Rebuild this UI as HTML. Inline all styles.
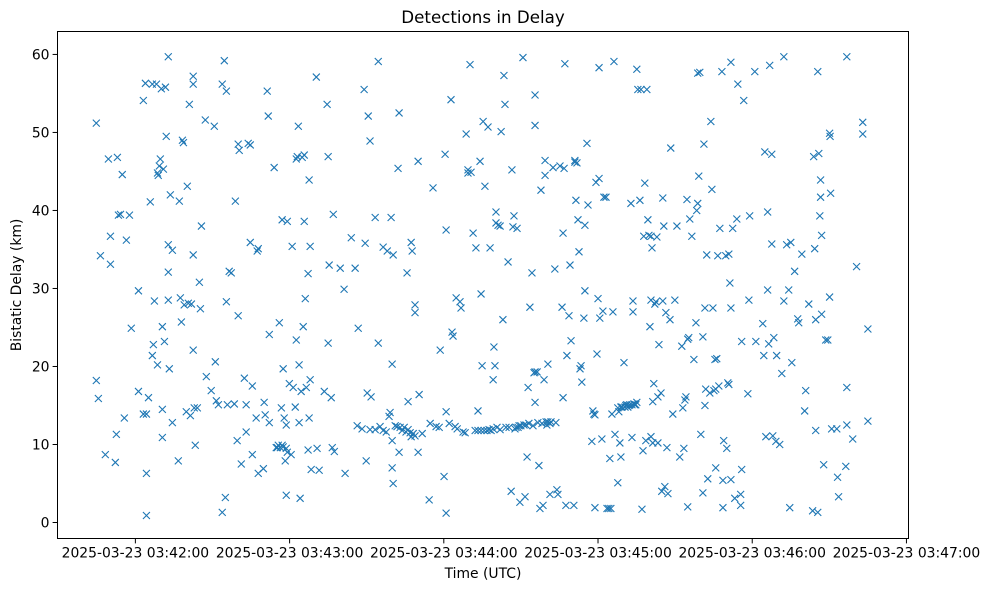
<!DOCTYPE html>
<html><head><meta charset="utf-8"><style>
html,body{margin:0;padding:0;background:#fff;}
svg{display:block;font-family:"DejaVu Sans","Liberation Sans",sans-serif;}
</style></head><body>
<svg id="chart" width="989" height="590" viewBox="0 0 989 590" xmlns="http://www.w3.org/2000/svg">
<rect x="0" y="0" width="989" height="590" fill="#fff"/>
<text x="483" y="23" text-anchor="middle" font-size="16.7">Detections in Delay</text>
<text x="483" y="578" text-anchor="middle" font-size="13.9">Time (UTC)</text>
<text transform="translate(21,285) rotate(-90)" text-anchor="middle" font-size="13.9">Bistatic Delay (km)</text>
<g id="marks"></g>
<g id="axes"></g>
<rect x="57.5" y="31.5" width="851" height="507" fill="none" stroke="#000" stroke-width="1"/>
</svg>
<script>
// seconds after 2025-03-23 03:42:00 UTC
const times = [-15.2,-15.2,-14.4,-13.6,-11.7,-10.5,-9.7,-9.7,-7.8,-7.4,-7.0,-6.6,-5.8,-5.1,-4.3,-3.5,-2.3,-1.6,1.2,1.2,3.1,3.1,3.9,4.3,4.3,4.3,5.1,5.8,6.6,6.6,7.0,7.4,8.2,8.6,8.6,8.9,9.3,9.7,10.1,10.5,10.5,10.5,10.9,11.3,11.7,12.0,12.8,12.8,12.8,12.8,13.2,13.6,14.4,14.4,16.7,17.1,17.5,17.9,18.3,18.7,19.0,19.8,20.2,20.6,21.0,21.4,21.8,22.5,22.5,22.5,22.5,22.9,23.3,24.1,24.9,25.3,25.7,27.2,27.6,29.5,30.7,31.1,31.5,32.3,33.8,33.8,34.6,35.0,35.4,35.4,35.8,36.5,37.3,38.5,38.9,39.6,40.0,40.0,40.4,41.2,42.4,43.1,43.1,43.9,44.7,44.7,45.5,45.5,47.0,47.4,47.8,47.8,49.8,50.1,50.5,51.3,51.7,52.1,52.1,54.0,54.8,55.2,56.4,55.6,57.1,57.5,56.0,56.8,57.1,57.5,57.9,58.3,58.7,58.7,58.7,59.1,59.1,59.9,60.6,61.0,61.4,62.2,62.6,62.6,63.4,63.0,63.7,63.7,64.1,64.5,64.9,65.3,65.7,65.7,66.1,66.5,67.2,67.2,67.6,67.6,68.0,68.0,68.4,70.4,70.7,71.5,73.5,74.6,75.0,75.0,75.4,76.2,76.6,77.0,77.4,79.7,81.2,81.6,84.0,85.5,86.7,89.0,89.4,90.2,89.8,90.6,91.3,91.7,93.3,94.5,94.5,95.2,96.4,98.0,98.7,99.1,99.5,99.9,99.9,99.9,100.3,100.3,101.1,101.8,102.2,102.6,102.6,103.0,103.8,104.6,105.3,105.7,106.1,106.1,106.9,107.3,107.7,107.3,108.1,108.8,108.8,108.8,110.0,110.0,110.4,111.6,114.3,114.7,115.8,117.0,118.2,118.6,120.1,120.5,120.9,120.9,120.9,122.1,122.8,123.2,123.6,124.4,124.8,125.2,126.3,127.5,126.7,128.3,128.7,129.4,129.4,130.2,130.6,131.4,132.2,132.5,133.3,133.3,134.1,134.5,134.5,134.9,135.3,135.7,136.0,136.8,137.2,137.6,138.0,138.4,139.2,139.2,139.5,139.9,140.3,140.3,140.7,141.1,141.9,141.9,142.3,143.0,143.4,143.8,144.2,145.0,145.4,146.2,146.5,146.9,147.3,147.7,148.1,148.5,148.9,149.3,149.6,150.0,150.8,151.2,151.6,152.0,152.4,152.8,153.1,153.5,154.3,154.7,155.1,155.5,155.5,155.5,155.5,156.3,156.6,157.0,157.4,157.8,158.2,158.6,159.0,159.4,159.4,159.8,160.1,160.5,160.5,161.3,161.3,161.7,162.5,163.2,163.6,164.0,164.4,165.2,166.0,166.4,166.4,166.8,167.1,167.5,167.9,168.7,169.1,169.5,170.6,171.0,171.0,171.4,171.8,172.2,172.6,173.0,173.4,173.7,174.5,174.9,174.9,175.7,176.1,177.6,178.0,178.4,178.8,178.8,179.2,179.6,180.0,180.4,180.4,180.7,181.5,181.9,182.3,183.1,183.5,184.2,184.6,185.0,185.4,185.8,186.2,186.6,187.7,187.7,188.1,188.5,188.9,188.9,189.3,190.1,190.5,190.8,191.2,191.6,192.0,192.4,192.8,193.2,193.2,193.6,193.6,194.0,194.3,194.7,195.1,195.1,195.5,196.3,196.7,197.1,197.5,197.8,198.2,198.6,199.0,199.4,199.8,200.2,200.6,200.6,200.6,201.0,201.3,201.3,201.7,202.1,202.5,202.9,203.3,203.3,203.7,204.5,204.8,205.2,205.2,205.6,206.0,206.4,206.8,207.2,208.0,208.3,209.1,209.9,210.7,211.8,212.6,213.0,213.4,213.8,214.2,214.6,214.9,214.9,215.3,215.7,216.5,217.3,218.1,218.4,218.8,218.8,219.2,219.6,220.0,220.8,220.8,221.2,221.6,221.6,221.9,222.3,222.7,223.5,223.9,224.3,224.7,225.1,225.5,225.8,225.8,226.2,226.6,227.0,227.4,228.2,228.6,228.6,228.9,229.7,230.1,230.5,230.9,230.9,231.3,231.7,231.7,231.7,232.4,233.2,234.0,234.4,235.5,235.5,235.9,235.9,236.7,238.3,238.7,239.0,241.0,241.4,244.1,244.5,244.9,245.3,246.0,246.0,246.4,246.8,247.6,247.6,248.0,248.4,249.2,249.5,250.7,251.5,252.3,252.3,253.4,254.2,254.6,255.0,255.4,256.5,257.7,258.1,259.3,260.4,260.8,262.0,263.5,263.9,264.3,264.7,264.7,265.5,265.5,265.9,266.3,266.6,266.6,267.0,267.0,267.8,268.6,269.4,270.1,270.1,270.3,270.5,270.9,272.9,273.2,273.6,276.4,276.8,276.8,276.8,279.1,280.6,283.0,283.0,285.0,285.0,86.3,88.2,91.3,93.3,96.4,97.6];
// bistatic delay in km
const delays = [51.2,18.2,15.9,34.2,8.7,46.6,33.1,36.7,7.7,11.3,46.8,39.4,39.5,44.6,13.4,36.2,39.4,24.9,29.7,16.8,54.1,13.9,56.3,0.9,6.3,13.9,16.0,41.1,56.2,21.4,22.8,28.4,56.2,44.8,20.2,44.5,45.7,46.6,55.6,14.5,10.9,25.1,45.3,23.2,55.8,49.5,35.6,32.1,28.5,59.7,19.7,42.0,12.8,34.9,7.9,41.2,28.8,25.7,49.0,48.7,27.9,14.2,43.1,28.1,53.6,13.7,28.0,57.2,56.2,34.3,22.1,14.7,9.9,14.7,30.8,27.4,38.0,51.6,18.7,16.9,50.8,20.6,15.6,15.1,1.3,56.2,59.2,3.2,55.3,28.3,15.1,32.2,32.0,15.2,41.2,10.5,48.5,26.5,47.7,7.5,18.5,15.1,11.6,48.6,48.4,35.9,8.7,17.5,13.4,34.8,6.3,35.1,6.9,15.4,13.8,55.3,52.1,24.1,12.8,45.5,9.6,9.6,9.6,9.9,9.9,9.7,25.6,14.7,38.8,19.7,13.4,7.9,12.5,9.5,3.5,9.0,38.6,17.8,8.7,35.4,17.3,14.8,46.6,23.4,50.8,46.9,12.8,20.2,3.1,16.8,46.8,25.1,38.6,47.1,28.7,17.3,31.9,9.3,43.9,13.4,35.4,18.3,6.8,57.1,9.5,6.7,16.8,53.6,46.9,23.0,33.0,16.0,9.6,39.5,9.1,32.6,29.9,6.3,36.5,32.6,24.9,55.5,35.8,16.6,7.9,52.1,48.9,16.1,39.1,59.1,23.0,12.3,35.3,34.8,13.6,14.1,39.1,20.3,10.5,7.0,34.3,5.0,12.4,12.3,45.4,9.0,52.5,12.2,11.8,12.2,11.6,32.0,15.5,11.9,11.5,11.0,34.8,35.9,11.4,27.9,11.1,26.9,46.3,9.0,16.4,11.4,2.9,12.7,42.9,12.3,12.2,22.1,5.9,47.2,37.5,1.2,14.2,12.7,54.2,24.4,23.9,12.3,28.8,12.0,28.3,11.6,27.5,11.5,49.8,45.2,44.8,58.7,44.9,37.1,11.8,35.2,14.3,11.8,46.3,11.8,29.3,20.1,51.4,11.8,43.1,11.8,50.7,11.9,35.2,11.8,12.0,18.3,22.5,20.1,39.8,38.4,12.2,38.1,11.9,38.0,50.1,26.0,57.3,53.6,12.2,33.4,12.2,4.0,45.2,37.9,39.3,12.0,12.2,37.7,12.2,12.4,2.6,12.4,59.6,12.5,3.3,12.5,8.4,17.3,12.7,27.6,32.0,12.4,19.2,19.3,15.4,54.8,50.9,19.3,12.8,7.3,1.8,42.6,12.7,2.2,18.3,44.5,46.4,12.9,12.5,12.9,20.3,12.7,3.6,12.9,45.5,32.5,12.8,4.2,3.6,45.7,27.6,37.1,16.0,45.4,58.8,2.2,21.4,26.5,33.0,23.3,2.2,46.2,46.4,41.3,46.1,38.8,34.7,19.7,20.1,18.0,26.2,29.7,38.1,48.6,40.7,10.4,14.3,13.9,13.8,1.9,43.6,21.6,28.7,58.3,44.1,26.2,10.7,27.1,41.7,41.7,1.8,1.8,8.2,1.8,13.9,27.0,59.1,11.3,5.1,14.7,14.2,10.2,14.8,8.4,14.8,20.5,14.8,15.0,15.1,14.8,15.0,15.1,40.9,15.1,10.9,27.0,28.4,15.2,15.1,15.1,15.4,58.1,55.5,41.3,55.5,1.7,9.2,36.7,43.5,10.5,55.5,38.8,36.8,25.1,11.0,28.5,36.7,35.2,15.5,10.2,17.8,28.0,28.3,36.6,10.2,16.1,22.8,16.6,4.0,28.4,41.6,38.0,4.6,26.9,9.6,3.7,26.0,48.0,13.9,28.5,38.0,8.4,22.6,14.7,9.5,15.7,16.1,41.4,2.0,23.5,23.7,38.9,36.7,20.9,25.6,40.0,40.9,57.6,44.4,57.7,11.3,23.8,3.8,48.5,27.5,15.0,17.1,34.3,5.6,16.6,51.4,42.7,27.5,16.9,20.9,7.0,17.1,21.0,34.2,17.5,37.7,57.8,1.9,5.4,10.5,34.2,9.5,17.9,17.7,34.4,30.7,27.5,59.0,5.5,37.7,3.1,38.9,56.2,3.6,2.2,6.8,23.2,54.1,16.5,28.5,39.3,57.8,23.2,25.5,21.4,47.5,11.0,39.8,29.8,22.9,58.6,35.7,47.2,11.1,23.7,10.4,21.4,10.0,19.1,59.7,28.4,35.6,29.8,1.9,35.9,20.5,32.2,26.1,25.6,34.4,14.3,16.9,28.0,1.5,46.9,35.1,11.8,26.0,1.3,57.8,47.3,39.3,41.7,43.9,36.8,26.7,7.4,23.4,23.4,28.9,49.9,49.5,42.2,12.0,12.0,5.8,3.3,7.2,17.3,59.7,12.5,10.7,32.8,51.3,49.8,24.8,13.0,12.4,12.0,11.9,11.9,11.8,11.6];
const xTickValues = [0,60,120,180,240,300];
const xTickLabels = ["2025-03-23 03:42:00","2025-03-23 03:43:00","2025-03-23 03:44:00","2025-03-23 03:45:00","2025-03-23 03:46:00","2025-03-23 03:47:00"];
const yTickValues = [0,10,20,30,40,50,60];
const yTickLabels = ["0","10","20","30","40","50","60"];

const NS = "http://www.w3.org/2000/svg";
const X0 = 57.5, X1 = 908.5, Y0 = 538.5, Y1 = 31.5;
const tMin = -30.3, tMax = 300.8, dMin = -2.05, dMax = 62.94;
function xScale(t){ return X0 + (t - tMin) / (tMax - tMin) * (X1 - X0); }
function yScale(d){ return Y0 - (d - dMin) / (dMax - dMin) * (Y0 - Y1); }

const marks = document.getElementById('marks');
const n = Math.min(times.length, delays.length);
for (let i = 0; i < n; i++) {
  const cx = xScale(times[i]), cy = yScale(delays[i]), r = 3.5;
  const p = document.createElementNS(NS, 'path');
  p.setAttribute('d', `M${cx-r},${cy-r}L${cx+r},${cy+r}M${cx-r},${cy+r}L${cx+r},${cy-r}`);
  p.setAttribute('stroke', '#1f77b4');
  p.setAttribute('stroke-width', '1.1');
  p.setAttribute('fill', 'none');
  
  
  marks.appendChild(p);
}

const axes = document.getElementById('axes');
xTickValues.forEach((v, i) => {
  const x = xScale(v);
  const l = document.createElementNS(NS, 'line');
  l.setAttribute('x1', x); l.setAttribute('x2', x);
  l.setAttribute('y1', Y0); l.setAttribute('y2', Y0 + 4.9);
  l.setAttribute('stroke', '#000');
  
  
  axes.appendChild(l);
  const t = document.createElementNS(NS, 'text');
  t.setAttribute('x', x); t.setAttribute('y', Y0 + 19);
  t.setAttribute('text-anchor', 'middle');
  t.setAttribute('font-size', '13.9');
  t.textContent = xTickLabels[i];
  
  
  axes.appendChild(t);
});
yTickValues.forEach((v, i) => {
  const y = yScale(v);
  const l = document.createElementNS(NS, 'line');
  l.setAttribute('x1', X0 - 4.9); l.setAttribute('x2', X0);
  l.setAttribute('y1', y); l.setAttribute('y2', y);
  l.setAttribute('stroke', '#000');
  
  
  axes.appendChild(l);
  const t = document.createElementNS(NS, 'text');
  t.setAttribute('x', X0 - 8); t.setAttribute('y', y + 5);
  t.setAttribute('text-anchor', 'end');
  t.setAttribute('font-size', '13.9');
  t.textContent = yTickLabels[i];
  
  
  axes.appendChild(t);
});
</script>
</body></html>
